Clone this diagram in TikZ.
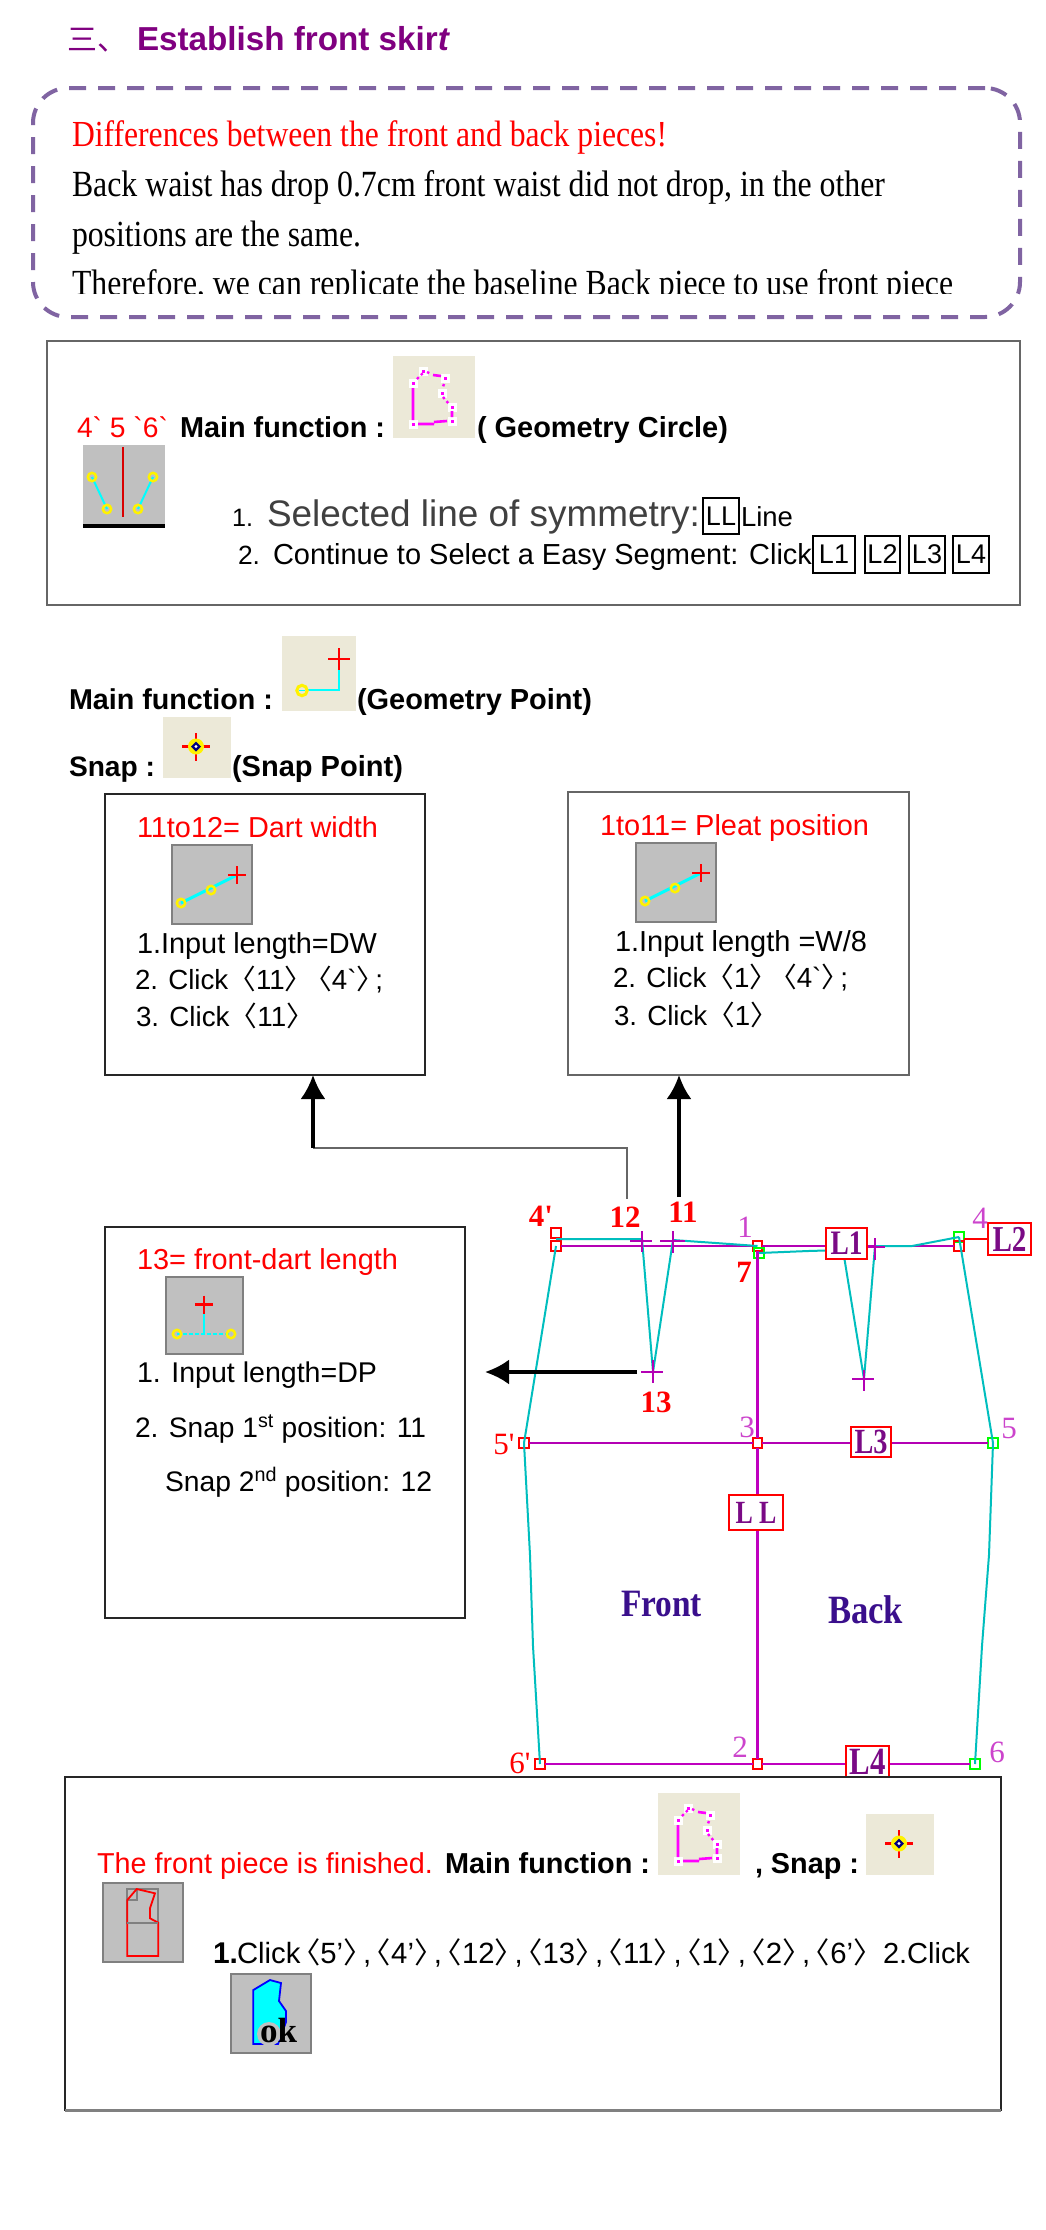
\documentclass[tikz,border=0pt]{standalone}
\usepackage{fontspec}
\usepackage{graphicx}
\usetikzlibrary{arrows.meta}
\newfontfamily\arialf{Liberation Sans}
\newfontfamily\timesf{Liberation Serif}
\newfontfamily\cjkf{Noto Sans CJK SC}
\definecolor{ttl}{HTML}{800080}
\definecolor{dashc}{HTML}{8064A2}
\definecolor{beige}{HTML}{ECE9D8}
\definecolor{igray}{HTML}{C0C0C0}
\definecolor{mgl}{HTML}{B400B4}
\definecolor{cyl}{HTML}{00BEBE}
\definecolor{mgn}{HTML}{CC44CC}
\definecolor{indg}{HTML}{3A0F8C}
\definecolor{lbl}{HTML}{7A0A85}
\definecolor{cy}{HTML}{00FFFF}
\definecolor{mag}{HTML}{FF00FF}
\definecolor{navy2}{HTML}{00007F}
\newcommand\lan{{\cjkf 〈}}
\newcommand\ran{{\cjkf 〉}}
\newcommand\lanb{\kern-.32em{\cjkf 〈}}
\newcommand\ranb{{\cjkf 〉}\kern-.32em}
\newcommand\fitto[2]{\setbox0=\hbox{\fontsize{10}{12}\selectfont #2}\pgfmathsetmacro\fsz{10*#1/\wd0}\fontsize{\fsz}{\fsz}\selectfont #2}
% name x baseline width style text
\newcommand\tx[6]{\node[txtn,#5] (#1) at (#2,#3) {\fitto{#4}{#6}};}
\newcommand\txs[6]{\node[txtn,#5] (#1) at (#2,#3) {\scalebox{1}[1.16]{\fitto{#4}{#6}}};}
% name x1 y1 x2 y2 style
\newcommand\bx[6]{\node[inner sep=0pt,outer sep=0pt,minimum width={(#4)-(#2)},minimum height={(#5)-(#3)},#6] (#1) at ({((#2)+(#4))/2},{((#3)+(#5))/2}) {};}
% name x1 y1 x2 y2 textwidth text
\newcommand\rlab[7]{\node[inner sep=0pt,outer sep=0pt,minimum width={(#4)-(#2)},minimum height={(#5)-(#3)},draw=red,line width=1.7pt,fill=white,text=lbl,font=\timesf\bfseries] (#1) at ({((#2)+(#4))/2},{((#3)+(#5))/2}) {\scalebox{1}[1.25]{\fitto{#6}{#7}}};}
% name x1 y1 x2 y2 text
\newcommand\blab[6]{\node[inner sep=0pt,outer sep=0pt,minimum width={(#4)-(#2)},minimum height={(#5)-(#3)},draw=black,line width=1.4pt,font=\arialf\fontsize{27}{27}\selectfont] (#1) at ({((#2)+(#4))/2},{((#3)+(#5))/2}) {#6};}
% name x baseline size style text
\newcommand\lb[6]{\node[inner sep=0pt,outer sep=0pt,anchor=base,font=\timesf\fontsize{#4}{#4}\selectfont,#5] (#1) at (#2,#3) {#6};}
\newcommand\sqm[4]{\node[draw=#4,line width=1.7pt,minimum size=9.5pt,inner sep=0pt,outer sep=0pt] (#1) at (#2,#3) {};}
\newcommand\yc[2]{\draw[yellow,line width=2.5pt] (#1,#2) circle (4.2);}
\newcommand\rcross[2]{\draw[red,line width=2.4pt] (#1-9,#2)--(#1+9,#2) (#1,#2-9)--(#1,#2+9);}
\newcommand\geocircle[2]{%
  \begin{scope}[shift={(#1,#2)}]
    \fill[beige] (0,0) rectangle (82,82);
    \foreach \vx/\vy in {30/15,52/22,49/37,59/51,59/65,20/68,20/27}{
      \fill[white] (\vx-4.5,\vy-4.5) rectangle (\vx+4.5,\vy+4.5);
      \fill[mag] (\vx-1.5,\vy-1.5) rectangle (\vx+1.5,\vy+1.5);
    }
    \draw[mag,line width=2.6pt] (20,32)--(20,64) (25,68)--(41,68) (41,66)--(54,65) (59,55)--(59,61) (40,19)--(48,20);
    \draw[mag,line width=2.4pt,dash pattern=on 2.5pt off 3pt] (24,23)--(30,17) (34,16)--(38,18) (51,28)--(49,33) (50,41)--(56,48);
  \end{scope}}
\newcommand\snapicon[4]{%
  \begin{scope}[shift={(#1,#2)}]
    \fill[beige] (0,0) rectangle (#3,#4);
    \coordinate (sc) at (33,{#4/2-1});
    \draw[red,line width=2.6pt] ([xshift=-14pt]sc)--([xshift=14pt]sc) ([yshift=-14pt]sc)--([yshift=14pt]sc);
    \fill[yellow] (sc) circle (8);
    \fill[navy2] ([xshift=-5pt]sc)--([yshift=-5pt]sc)--([xshift=5pt]sc)--([yshift=5pt]sc)--cycle;
    \fill[white] (sc) circle (1.6);
  \end{scope}}
\newcommand\lineicon[2]{%
  \begin{scope}[shift={(#1,#2)}]
    \fill[igray] (0,0) rectangle (82,81);
    \draw[gray,line width=2.2pt] (1,1) rectangle (81,80);
    \draw[cy,line width=3pt] (10,59)--(66,31);
    \yc{10}{59} \yc{40}{46}
    \rcross{66}{31}
  \end{scope}}
\tikzset{
  txtn/.style={anchor=base west,inner sep=0pt,outer sep=0pt},
  sr/.style={font=\timesf},
  sb/.style={font=\arialf\bfseries},
  sa/.style={font=\arialf},
  thickarrow/.style={line width=3.4pt,-{Latex[length=24pt,width=25pt]}},
  boxa/.style={draw=black!85,line width=1.3pt},
  boxb/.style={draw=black!60,line width=1.6pt},
  cyanl/.style={draw=cyl,line width=2pt},
  magl/.style={draw=mgl,line width=2.4pt},
  redn/.style={text=red,font=\timesf\bfseries\fontsize{31}{31}\selectfont},
  magn/.style={text=mgn},
}
\begin{document}
\begin{tikzpicture}[x=1pt,y=-1pt]
\fill[white] (0,0) rectangle (1045,2230);
\useasboundingbox (0,0) rectangle (1045,2230);
% title
\node[txtn,text=ttl,font=\cjkf\fontsize{30}{30}\selectfont] (tcjk) at (67,50) {三、};
\tx{ttext}{137}{50}{313}{sb,text=ttl}{Establish front skir\textit{t}}
% dashed note
\bx{note}{33}{88}{1020}{317}{draw=dashc,line width=4pt,rounded corners=35pt,dash pattern=on 17pt off 12pt}
\txs{n1}{72}{146}{595}{sr,text=red}{Differences between the front and back pieces!}
\txs{n2}{72}{196}{813}{sr}{Back waist has drop 0.7cm front waist did not drop, in the other}
\txs{n3}{72}{246}{289}{sr}{positions are the same.}
\begin{scope}
\clip (60,250) rectangle (1000,293);
\txs{n4}{72}{295}{881}{sr}{Therefore, we can replicate the baseline Back piece to use front piece}
\end{scope}
% box 1
\bx{box1}{47}{341}{1020}{605}{boxb}
\tx{b1a}{77}{437}{91}{sa,text=red}{4\symbol{96} 5 \symbol{96}6\symbol{96}}
\tx{b1b}{180}{437}{205}{sb}{Main function :}
\geocircle{393}{356}
\tx{b1c}{477}{437}{251}{sb}{( Geometry Circle)}
\fill[igray] (83,445) rectangle (165,524);
\fill[black] (83,524) rectangle (165,527.5);
\draw[red!85!black,line width=2.4pt] (123,447)--(123,517);
\draw[cy,line width=2pt] (92,477)--(107,509) (153,477)--(138,509);
\yc{92}{477} \yc{153}{477} \yc{107}{509} \yc{138}{509}
\tx{b1d}{232}{526}{21}{sa}{1.}
\tx{b1e}{267}{526}{433}{sa,text=black!75}{Selected line of symmetry:}
\blab{llk}{703}{498}{739}{534}{LL}
\tx{b1f}{741}{526}{52}{sa}{Line}
\tx{b1g}{238}{564}{22}{sa}{2.}
\tx{b1h}{273}{564}{539}{sa}{Continue to Select a Easy Segment: Click}
\blab{l1k}{813}{536}{855}{573}{L1}
\blab{l2k}{865}{536}{900}{573}{L2}
\blab{l3k}{909}{536}{945}{573}{L3}
\blab{l4k}{953}{536}{989}{573}{L4}
% main function
\tx{m1}{69}{709}{204}{sb}{Main function :}
\fill[beige] (282,636) rectangle (356,711);
\draw[cy,line width=2.8pt] (306,690)--(339,690)--(339,668);
\draw[red,line width=2.8pt] (328,659)--(350,659) (339,648)--(339,670);
\draw[yellow,line width=3pt] (302,690.5) circle (5.2);
\draw[cy,line width=1.5pt] (299,690.5)--(305,690.5);
\tx{m2}{357}{709}{235}{sb}{(Geometry Point)}
\tx{m3}{69}{776}{86}{sb}{Snap :}
\snapicon{163}{717}{68}{61}
\tx{m4}{232}{776}{171}{sb}{(Snap Point)}
% box A
\bx{boxA}{105}{794}{425}{1075}{boxa}
\tx{a1}{137}{837}{241}{sa,text=red}{11to12= Dart width}
\lineicon{171}{844}
\tx{a2}{137}{953}{240}{sa}{1.Input length=DW}
\tx{a3}{135}{989}{248}{sa}{2. Click\lan 11\ran\kern-.3em\lan 4\symbol{96}\ran\kern-.32em;}
\tx{a4}{136}{1026}{178}{sa}{3. Click\lan 11\ran}
% box B
\bx{boxB}{568}{792}{909}{1075}{boxb}
\tx{b1}{600}{835}{269}{sa,text=red}{1to11= Pleat position}
\lineicon{635}{842}
\tx{b2}{615}{951}{252}{sa}{1.Input length =W/8}
\tx{b3}{613}{987}{235}{sa}{2. Click\lan 1\ran\kern-.3em\lan 4\symbol{96}\ran\kern-.32em;}
\tx{b4}{614}{1025}{164}{sa}{3. Click\lan 1\ran}
% box C
\bx{boxC}{105}{1227}{465}{1618}{boxa}
\tx{c1}{137}{1269}{261}{sa,text=red}{13= front-dart length}
\fill[igray] (165,1276) rectangle (244,1355);
\draw[gray,line width=2.2pt] (166,1277) rectangle (243,1354);
\draw[cy,line width=2pt] (204,1304)--(204,1334);
\draw[cy,line width=2.2pt,dash pattern=on 4pt off 2pt] (177,1334)--(231,1334);
\rcross{204}{1304.5}
\yc{177}{1334} \yc{231}{1334}
\tx{c2}{137}{1382}{240}{sa}{1. Input length=DP}
\tx{c3}{135}{1437}{292}{sa}{2. Snap 1\textsuperscript{st} position: 11}
\tx{c4}{165}{1491}{268}{sa}{Snap 2\textsuperscript{nd} position: 12}
% skirt points
\sqm{p4fu}{556}{1233}{red}
\sqm{p4f}{556}{1246}{red}
\sqm{p1}{757.5}{1246}{red}
\sqm{p7}{759}{1253}{green}
\sqm{p4bu}{959}{1237}{green}
\sqm{p4b}{959}{1246}{red}
\sqm{p5f}{524}{1443}{red}
\sqm{p3}{757.5}{1443}{red}
\sqm{p5b}{993}{1443}{green}
\sqm{p6f}{540}{1764}{red}
\sqm{p2}{757.5}{1764}{red}
\sqm{p6b}{975}{1764}{green}
\coordinate (c12) at (642,1239);
\coordinate (c11) at (673,1240);
\coordinate (c13) at (653,1372);
\coordinate (cb1) at (843,1250);
\coordinate (cb2) at (875,1246);
\coordinate (cb3) at (864,1379);
% skirt lines
\draw[magl] (p4f)--(p1)--(p4b);
\draw[magl,draw=mgl!85!magenta] (p1)--(p3)--(p2);
\draw[magl] (p5f)--(p3)--(p5b);
\draw[magl,draw=mgl!85!magenta] (p6f)--(p2)--(p6b);
\draw[cyanl] (p4f.center)--(p5f.center)--(530,1555)--(533,1646)--(p6f.center);
\draw[cyanl] (p4bu.center)--(p5b.center)--(989,1555)--(982,1646)--(p6b.center);
\draw[cyanl] (556,1239)--(c12)--(c13)--(c11)--(730,1244)--(p1.center);
\draw[cyanl] (p7.center)--(808,1251)--(cb1)--(cb3)--(cb2)--(912,1246)--(p4bu.center);
\draw[mgl,line width=1.5pt] (630,1241)--(652,1241) (642,1231)--(642,1252) (660,1241)--(685,1241) (673,1231)--(673,1253);
\draw[mgl,line width=1.5pt] (641,1372)--(663,1372) (653,1360)--(653,1383);
\draw[mgl,line width=2pt] (867,1247)--(885,1247) (875,1238)--(875,1260);
\draw[mgl,line width=1.5pt] (852,1379)--(874,1379) (864,1370)--(864,1391);
% labels boxes
\rlab{ll1}{826}{1228}{867}{1259}{32}{L1}
\rlab{ll2}{988}{1223}{1031}{1255}{34}{L2}
\rlab{ll3}{851}{1427}{891}{1457}{33}{L3}
\rlab{lll}{729}{1495}{783}{1530}{41}{L L}
\rlab{ll4}{846}{1746}{889}{1777}{36}{L4}
\draw[red,line width=1.7pt] (p4b.east|-ll2.west)--(ll2.west);
% numbers
\lb{t4f}{541}{1226}{31}{redn}{4'}
\lb{t12}{625}{1227}{31}{redn}{12}
\lb{t11}{683}{1222}{31}{redn}{11}
\lb{t1}{745}{1237}{31}{magn}{1}
\lb{t7}{744}{1282}{31}{redn}{7}
\lb{t4b}{980}{1228}{31}{magn}{4}
\lb{t13}{656}{1412}{31}{redn}{13}
\lb{t3}{747}{1437}{31}{magn}{3}
\lb{t5b}{1009}{1438}{31}{magn}{5}
\lb{t5f}{504}{1454}{31}{text=red}{5'}
\lb{t2}{740}{1757}{31}{magn}{2}
\lb{t6f}{520}{1773}{31}{text=red}{6'}
\lb{t6b}{997}{1762}{31}{magn}{6}
\txs{tfront}{621}{1616}{81}{font=\timesf\bfseries,text=indg}{Front}
\txs{tback}{828}{1623}{75}{font=\timesf\bfseries,text=indg}{Back}
% arrows
\coordinate (ja) at (313,1148);
\coordinate (j12) at (627,1199);
\coordinate (j11) at (679,1197);
\coordinate (j13) at (637,1372);
\draw[black!60,line width=1.4pt] (ja)-|(j12);
\draw[thickarrow] (ja)--(ja|-boxA.south);
\draw[thickarrow] (j11)--(j11|-boxB.south);
\draw[thickarrow] (j13)--(485,1372);
% box D
\bx{boxD}{65}{1777}{1001}{2110}{boxa}
\draw[gray,line width=3pt] (boxD.south west)--(boxD.south east);
\tx{d1}{97}{1873}{336}{sa,text=red}{The front piece is finished.}
\tx{d2}{445}{1873}{205}{sb}{Main function :}
\geocircle{658}{1793}
\tx{d3}{755}{1873}{104}{sb}{, Snap :}
\snapicon{866}{1814}{68}{61}
\fill[igray] (102,1882) rectangle (184,1963);
\draw[gray,line width=2.2pt] (103,1883) rectangle (183,1962);
\draw[gray,line width=1.8pt] (127.3,1889) rectangle (158.3,1922.7) (127.3,1889) rectangle (136.7,1900);
\draw[red,line width=1.8pt] (127.3,1900)--(136.7,1889)--(155,1893.3)--(150,1908.3)--(150,1918.3)--(158.3,1922.7)--(158.3,1956)--(127.3,1956)--cycle;
\draw[gray,line width=1.8pt] (127.3,1922.7)--(158.3,1922.7);
\tx{d4}{213}{1963}{25}{sb}{1.}
\tx{d5}{237}{1963}{636}{sa}{Click\lanb 5’\ranb,\lanb 4’\ranb,\lanb 12\ranb,\lanb 13\ranb,\lanb 11\ranb,\lanb 1\ranb,\lanb 2\ranb,\lanb 6’\ranb}
\tx{d6}{883}{1963}{87}{sa}{2.Click}
\fill[igray] (230,1973) rectangle (312,2054);
\draw[gray,line width=2.2pt] (231,1974) rectangle (311,2053);
\draw[blue,fill=cy,line width=1.8pt] (253.3,1990)--(270,1980)--(281,1983)--(279,2001)--(286,2011)--(286,2022)--(278,2044)--(253.3,2044)--cycle;
\fill[igray] (269,2034) circle (12);
\tx{dok}{260}{2042}{37}{font=\timesf\bfseries}{ok}
\end{tikzpicture}
\end{document}
